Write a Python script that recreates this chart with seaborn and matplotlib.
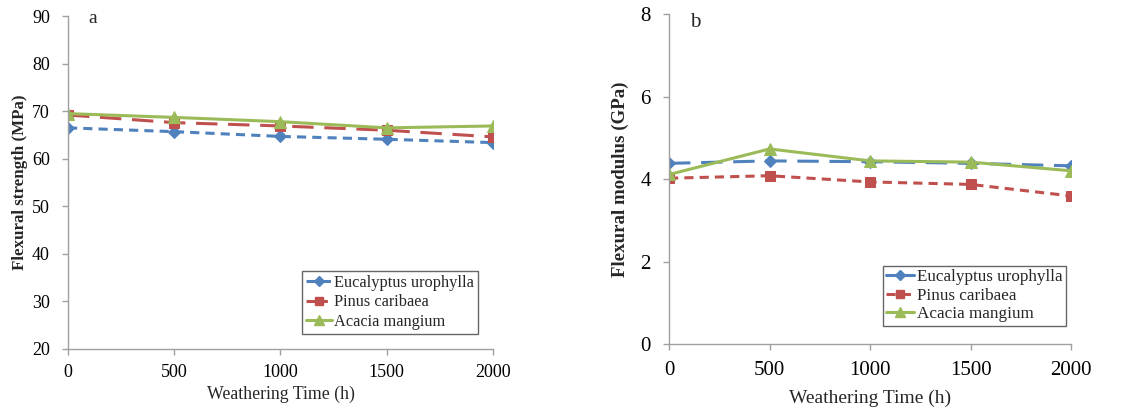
import matplotlib
matplotlib.use("Agg")
import matplotlib.pyplot as plt
import seaborn as sns
import pandas as pd
from matplotlib.lines import Line2D

sns.set_style("ticks")
plt.rcParams['font.family'] = ['Liberation Serif', 'DejaVu Serif']

time_h = [0, 500, 1000, 1500, 2000]
species = ["Eucalyptus urophylla", "Pinus caribaea", "Acacia mangium"]

strength_euc = [66.5, 65.7, 64.7, 64.1, 63.4]
strength_pin = [69.2, 67.6, 66.9, 66.0, 64.6]
strength_aca = [69.5, 68.7, 67.8, 66.5, 66.9]

modulus_euc = [4.38, 4.44, 4.42, 4.38, 4.32]
modulus_pin = [4.02, 4.08, 3.93, 3.87, 3.59]
modulus_aca = [4.11, 4.73, 4.44, 4.41, 4.20]

colors = ["#4F81BD", "#C0504D", "#9BBB59"]
markers = ["D", "s", "^"]
msizes = [6, 7, 8]

fig = plt.figure(figsize=(11.39, 4.13), dpi=100)
ax1 = fig.add_axes([0.0597, 0.155, 0.3731, 0.806])
ax2 = fig.add_axes([0.5874, 0.167, 0.3529, 0.799])

short_dash = (0, (3, 2))
long_dash = (0, (7, 3.5))

styles_a = [short_dash, long_dash, "-"]
styles_b = [long_dash, short_dash, "-"]

for ax, data, styles in [
    (ax1, [strength_euc, strength_pin, strength_aca], styles_a),
    (ax2, [modulus_euc, modulus_pin, modulus_aca], styles_b),
]:
    for i, vals in enumerate(data):
        df = pd.DataFrame({"t": time_h, "v": vals})
        sns.lineplot(data=df, x="t", y="v", ax=ax, color=colors[i],
                     marker=markers[i], markersize=msizes[i],
                     markeredgecolor=colors[i], linewidth=2.2,
                     linestyle=styles[i], legend=False)

for ax in (ax1, ax2):
    ax.set_xlim(0, 2000)
    ax.set_xticks(time_h)
    for s in ("top", "right"):
        ax.spines[s].set_visible(False)
    for s in ("left", "bottom"):
        ax.spines[s].set_color("#A0A0A0")
        ax.spines[s].set_linewidth(1.0)
    ax.tick_params(colors="#A0A0A0", labelcolor="black", length=4, width=1.0)
    ax.tick_params(axis="y", pad=9)
    for sp in ax.spines.values():
        sp.set_clip_on(False)

ax1.set_ylim(20, 90)
ax1.set_yticks(range(20, 91, 10))
ax1.tick_params(labelsize=13)
ax1.tick_params(axis="x", pad=7)
ax1.set_ylabel("Flexural strength (MPa)", fontsize=12.2, fontweight="bold", labelpad=3)
ax1.set_xlabel("Weathering Time (h)", fontsize=12.8, labelpad=3)
ax1.text(118, 89.4, "a", fontsize=14, va="center", ha="center")

ax2.set_ylim(0, 8)
ax2.set_yticks(range(0, 9, 2))
ax2.tick_params(labelsize=15)
ax2.tick_params(axis="x", pad=8)
ax2.set_ylabel("Flexural modulus (GPa)", fontsize=13.6, fontweight="bold", labelpad=8)
ax2.set_xlabel("Weathering Time (h)", fontsize=14, labelpad=7)
ax2.text(129, 7.8, "b", fontsize=15, va="center", ha="center")

def handles(styles):
    return [Line2D([0], [0], color=colors[i], marker=markers[i], markersize=msizes[i] - 1,
                   markeredgecolor=colors[i], linewidth=2.2, linestyle=styles[i])
            for i in range(3)]

leg1 = ax1.legend(handles(styles_a), species, loc="lower left",
                  bbox_to_anchor=(0.551, 0.045), fontsize=11.8, frameon=True,
                  fancybox=False, edgecolor="#404040", handlelength=1.6,
                  handletextpad=0.1, borderpad=0.25, labelspacing=0.22,
                  borderaxespad=0)
leg1.get_frame().set_linewidth(1.0)

leg2 = ax2.legend(handles(["-", short_dash, "-"]), species, loc="lower left",
                  bbox_to_anchor=(0.532, 0.055), fontsize=12.3, frameon=True,
                  fancybox=False, edgecolor="#404040", handlelength=1.6,
                  handletextpad=0.2, borderpad=0.2, labelspacing=0.15,
                  borderaxespad=0)
leg2.get_frame().set_linewidth(1.0)

fig.savefig("out.png", dpi=100)
